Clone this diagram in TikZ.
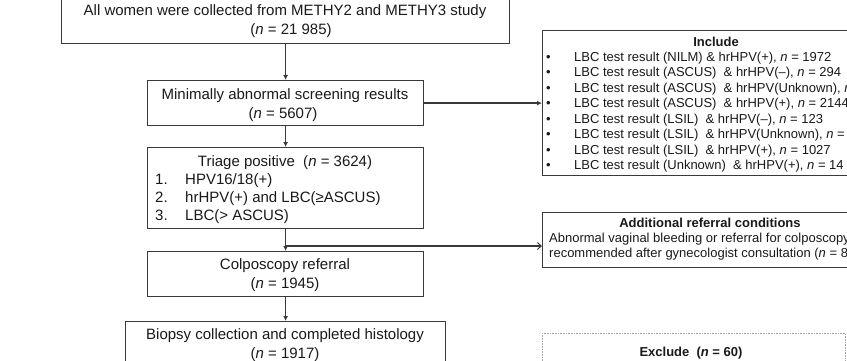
\documentclass[tikz,border=0pt]{standalone}
\usepackage{fontspec}
\setmainfont{Liberation Sans}
\usetikzlibrary{arrows.meta}
\definecolor{lc}{HTML}{3A3A3A}
\definecolor{tc}{HTML}{1A1A1A}
\begin{document}
\begin{tikzpicture}[x=1pt,y=-1pt,
  box/.style={draw=lc,line width=1.2pt,inner sep=0pt,anchor=north west,fill=white},
  exbox/.style={draw=gray!70,line width=0.7pt,dash pattern=on 0.8pt off 0.8pt,inner sep=0pt,anchor=north west},
  mt/.style={inner sep=0pt,anchor=base,text=tc,font=\fontsize{15}{18}\selectfont},
  mtl/.style={mt,anchor=base west},
  st/.style={inner sep=0pt,anchor=base west,text=tc,font=\fontsize{13}{15}\selectfont},
  sth/.style={inner sep=0pt,anchor=base,text=tc,font=\fontsize{13}{15}\selectfont\bfseries},
  arr/.style={draw=lc,line width=1.2pt,-{Latex[length=5pt,width=5pt]}},
  oarr/.style={draw=lc,line width=1.2pt,-{Straight Barb[length=4pt,width=7pt,line width=0.9pt]}}]
\useasboundingbox (0,0) rectangle (847,361);
\clip (0,0) rectangle (847,361);
\fill[white] (0,0) rectangle (847,361);

% main column boxes
\node[box,minimum width=448pt,minimum height=44pt] (b1) at (61,-1) {};
\node[box,minimum width=276pt,minimum height=45pt] (b2) at (147,80) {};
\node[box,minimum width=276pt,minimum height=81pt] (b3) at (147,147) {};
\node[box,minimum width=276pt,minimum height=45pt] (b4) at (147,251) {};
\node[box,minimum width=320pt,minimum height=50pt] (b5) at (125,321) {};

% right boxes
\node[box,minimum width=348pt,minimum height=145pt] (inc) at (542,30) {};
\node[box,minimum width=335pt,minimum height=55pt] (add) at (542,212) {};
\node[exbox,minimum width=303pt,minimum height=60pt] (exc) at (542,333) {};

% texts
\node[mt] (t1a) at (285,16) {All women were collected from METHY2 and METHY3 study};
\node[mt] (t1b) at (291,34.5) {(\textit{n} = 21 985)};
\node[mt] (t2a) at (285,99.5) {Minimally abnormal screening results};
\node[mt] (t2b) at (283,118.5) {(\textit{n} = 5607)};
\node[mt] (t3a) at (285,166) {Triage positive\ \ (\textit{n} = 3624)};
\node[mtl] (t3n1) at (155,184.5) {1.};
\node[mtl] (t3n2) at (155,202.5) {2.};
\node[mtl] (t3n3) at (155,220.5) {3.};
\node[mtl] (t3i1) at (185,184.5) {HPV16/18(+)};
\node[mtl] (t3i2) at (185,202.5) {hrHPV(+) and LBC(≥ASCUS)};
\node[mtl] (t3i3) at (185,220.5) {LBC(> ASCUS)};
\node[mt] (t4a) at (285,269.5) {Colposcopy referral};
\node[mt] (t4b) at (285,288.5) {(\textit{n} = 1945)};
\node[mt] (t5a) at (285,339) {Biopsy collection and completed histology};
\node[mt] (t5b) at (285,358.5) {(\textit{n} = 1917)};

\node[sth] (ih) at (716,46.7) {Include};
\foreach \k/\txt in {0/{LBC test result (NILM) \& hrHPV(+), \textit{n} = 1972},
  1/{LBC test result (ASCUS)\ \ \& hrHPV(–), \textit{n} = 294},
  2/{LBC test result (ASCUS)\ \ \& hrHPV(Unknown), \textit{n}},
  3/{LBC test result (ASCUS)\ \ \& hrHPV(+), \textit{n} = 2144},
  4/{LBC test result (LSIL)\ \ \& hrHPV(–), \textit{n} = 123},
  5/{LBC test result (LSIL)\ \ \& hrHPV(Unknown), \textit{n} =},
  6/{LBC test result (LSIL)\ \ \& hrHPV(+), \textit{n} = 1027},
  7/{LBC test result (Unknown)\ \ \& hrHPV(+), \textit{n} = 14}}{
  \node[st] (ib\k) at (546,61.4+15.5*\k) {•};
  \node[st] (it\k) at (574,61.4+15.5*\k) {\txt};
}

\node[sth] (ah) at (710,227.7) {Additional referral conditions};
\node[st] (a1) at (549,242.7) {Abnormal vaginal bleeding or referral for colposcopy};
\node[st] (a2) at (549,257.7) {recommended after gynecologist consultation (\textit{n} = 8};

\node[sth] (eh) at (691,356.5) {Exclude\ \ (\textit{n} = 60)};

% connectors
\draw[arr] (b1.south) -- (b2.north);
\draw[arr] (b2.east) -- (b2.east -| inc.west);
\draw[arr] (b2.south) -- (b3.north);
\draw[arr] (b3.south) -- (b4.north);
\coordinate (br) at (285,246);
\draw[oarr] (br) -- (br -| add.west);
\draw[arr] (b4.south) -- (b4.south |- b5.north);
\end{tikzpicture}
\end{document}
